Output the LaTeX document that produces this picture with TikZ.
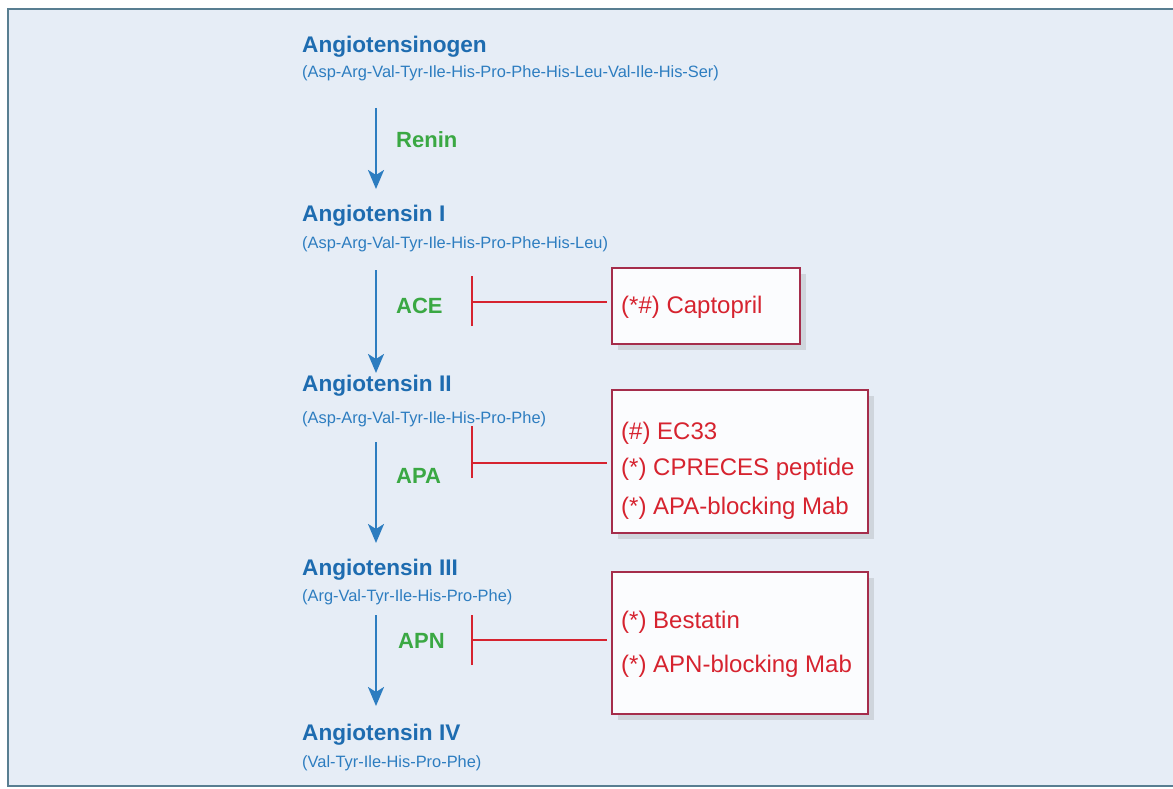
\documentclass[tikz,border=0pt]{standalone}
\usepackage{fontspec}
\setmainfont{Liberation Sans}
\usetikzlibrary{arrows.meta,shadows}

\definecolor{panelbg}{RGB}{230,237,246}
\definecolor{panelrule}{RGB}{88,126,145}
\definecolor{peptblue}{RGB}{30,108,176}
\definecolor{seqblue}{RGB}{45,125,192}
\definecolor{enzgreen}{RGB}{58,168,67}
\definecolor{drugred}{RGB}{214,35,47}
\definecolor{boxred}{RGB}{165,45,75}

\tikzset{
  peptide/.style={anchor=base west, inner sep=0pt, text=peptblue,
    font=\fontsize{22.6}{24}\selectfont\bfseries},
  seqtext/.style={anchor=base west, inner sep=0pt, text=seqblue,
    font=\fontsize{16.4}{18}\selectfont},
  enzyme/.style={anchor=base west, inner sep=0pt, text=enzgreen,
    font=\fontsize{22}{24}\selectfont\bfseries},
  drugtext/.style={anchor=base west, inner sep=0pt, text=drugred,
    font=\fontsize{24}{26}\selectfont},
  drugbox/.style={draw=boxred, line width=2.5pt, fill=white!85!panelbg,
    inner sep=0pt, drop shadow={opacity=0.22, shadow xshift=6pt, shadow yshift=-6pt}},
  conv/.style={draw=seqblue, line width=2.6pt,
    -{Stealth[length=19pt,width=16pt,inset=5pt]}},
  inhline/.style={draw=drugred, line width=2.6pt},
}

\begin{document}
\begin{tikzpicture}[x=1pt,y=-1pt,line cap=butt,line join=miter]
  \useasboundingbox (0,0) rectangle (1173,789);

  % Rahmen
  \draw[panelrule, line width=2.5pt, fill=panelbg] (8,9) rectangle (1190,786);

  % Peptide
  \node[peptide] (ang0) at (302,53) {Angiotensinogen};
  \node[seqtext] (seq0) at (302,78) {(Asp-Arg-Val-Tyr-Ile-His-Pro-Phe-His-Leu-Val-Ile-His-Ser)};
  \node[peptide] (ang1) at (302,222) {Angiotensin I};
  \node[seqtext] (seq1) at (302,248) {(Asp-Arg-Val-Tyr-Ile-His-Pro-Phe-His-Leu)};
  \node[peptide] (ang2) at (302,391) {Angiotensin II};
  \node[seqtext] (seq2) at (302,423) {(Asp-Arg-Val-Tyr-Ile-His-Pro-Phe)};
  \node[peptide] (ang3) at (302,575) {Angiotensin III};
  \node[seqtext] (seq3) at (302,601) {(Arg-Val-Tyr-Ile-His-Pro-Phe)};
  \node[peptide] (ang4) at (302,740) {Angiotensin IV};
  \node[seqtext] (seq4) at (302,767) {(Val-Tyr-Ile-His-Pro-Phe)};

  % Enzyme
  \node[enzyme] (renin) at (396,148) {Renin};
  \node[enzyme] (ace) at (396,313) {ACE};
  \node[enzyme] (apa) at (396,483) {APA};
  \node[enzyme] (apn) at (398,648) {APN};

  % Umwandlungspfeile
  \coordinate (c0s) at (376,108);
  \coordinate (c0e) at (376,189);
  \coordinate (c1s) at (376,270);
  \coordinate (c1e) at (376,373);
  \coordinate (c2s) at (376,442);
  \coordinate (c2e) at (376,543);
  \coordinate (c3s) at (376,615);
  \coordinate (c3e) at (376,706);
  \draw[conv] (c0s) -- (c0e);
  \draw[conv] (c1s) -- (c1e);
  \draw[conv] (c2s) -- (c2e);
  \draw[conv] (c3s) -- (c3e);

  % Hemmstoffe
  \node[drugbox, minimum width=188pt, minimum height=76pt] (box1) at (706,306) {};
  \node[drugtext] (capto) at (621,313) {(*\#) Captopril};

  \node[drugbox, minimum width=256pt, minimum height=143pt] (box2) at (740,461.5) {};
  \node[drugtext] (ec33) at (621,439) {(\#) EC33};
  \node[drugtext] (cpreces) at (621,475) {(*) CPRECES peptide};
  \node[drugtext] (apamab) at (621,514) {(*) APA-blocking Mab};

  \node[drugbox, minimum width=256pt, minimum height=142pt] (box3) at (740,643) {};
  \node[drugtext] (bestatin) at (621,628) {(*) Bestatin};
  \node[drugtext] (apnmab) at (621,672) {(*) APN-blocking Mab};

  % Hemmlinien
  \coordinate (h1) at (472,302);
  \coordinate (h2) at (472,463);
  \coordinate (h3) at (472,640);
  \draw[inhline] ([xshift=-4pt]box1.west |- h1) -- (h1);
  \draw[inhline] ([xshift=-4pt]box2.west |- h2) -- (h2);
  \draw[inhline] ([xshift=-4pt]box3.west |- h3) -- (h3);
  \draw[inhline] ([yshift=-24pt]h1) -- ([yshift=26pt]h1);
  \draw[inhline] ([yshift=-15pt]h2) -- ([yshift=37pt]h2);
  \draw[inhline] ([yshift=-25pt]h3) -- ([yshift=25pt]h3);
\end{tikzpicture}
\end{document}
